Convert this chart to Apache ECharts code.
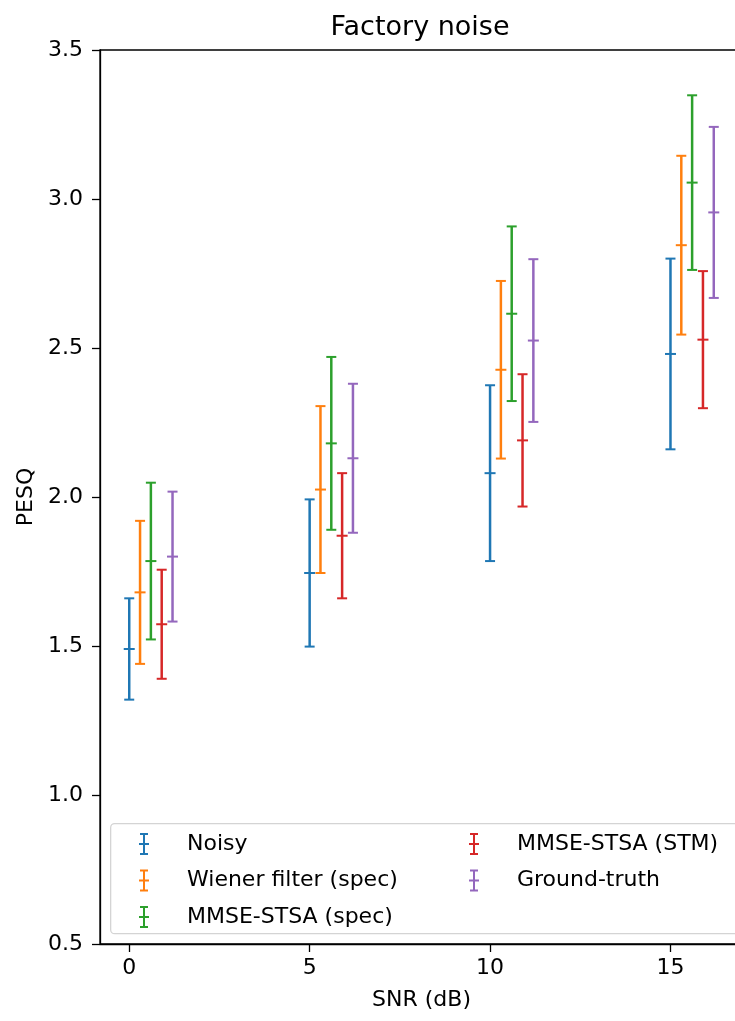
<!DOCTYPE html>
<html>
<head>
<meta charset="utf-8">
<title>Factory noise</title>
<script src="https://cdn.jsdelivr.net/npm/echarts@6/dist/echarts.min.js"></script>
<style>
  html, body { margin: 0; padding: 0; background: #fff; overflow: hidden; width: 735px; height: 1021px; }
  #chart { width: 760px; height: 1021px; }
</style>
</head>
<body>
<div id="chart"></div>
<script>
// SNR levels (dB) on the x axis
const snrLevels = [0, 5, 10, 15];
const xTicks = [0, 5, 10, 15];
const yTicks = [0.5, 1.0, 1.5, 2.0, 2.5, 3.0, 3.5];

const seriesNames = ['Noisy', 'Wiener filter (spec)', 'MMSE-STSA (spec)', 'MMSE-STSA (STM)', 'Ground-truth'];
const seriesColors = ['#1f77b4', '#ff7f0e', '#2ca02c', '#d62728', '#9467bd'];

// Mean PESQ and standard deviation per SNR level
const noisyMean = [1.49, 1.745, 2.08, 2.48];
const noisyStd  = [0.17, 0.247, 0.295, 0.32];
const wienerMean = [1.68, 2.025, 2.427, 2.845];
const wienerStd  = [0.24, 0.28, 0.298, 0.30];
const mmseSpecMean = [1.785, 2.18, 2.615, 3.055];
const mmseSpecStd  = [0.263, 0.29, 0.293, 0.293];
const mmseStmMean = [1.573, 1.87, 2.19, 2.528];
const mmseStmStd  = [0.183, 0.21, 0.222, 0.23];
const truthMean = [1.80, 2.13, 2.525, 2.955];
const truthStd  = [0.218, 0.25, 0.273, 0.287];

const means = [noisyMean, wienerMean, mmseSpecMean, mmseStmMean, truthMean];
const stds = [noisyStd, wienerStd, mmseSpecStd, mmseStmStd, truthStd];

// horizontal dodge between methods inside one SNR group
const dodge = 0.3;

const FONT = 'DejaVu Sans';
const CAP = 5;      // half width of the error bar caps (px)
const MID = 5.5;    // half width of the mean marker (px)
const LW = 2.5;

function renderErrorBar(params, api) {
  const x = api.value(0);
  const m = api.value(1);
  const e = api.value(2);
  const top = api.coord([x, m + e]);
  const bot = api.coord([x, m - e]);
  const mid = api.coord([x, m]);
  const style = { stroke: api.visual('color'), lineWidth: LW, fill: null };
  const thin = { stroke: api.visual('color'), lineWidth: 2, fill: null };
  return {
    type: 'group',
    children: [
      { type: 'line', shape: { x1: top[0], y1: top[1], x2: bot[0], y2: bot[1] }, style: style },
      { type: 'line', shape: { x1: top[0] - CAP, y1: top[1], x2: top[0] + CAP, y2: top[1] }, style: thin },
      { type: 'line', shape: { x1: bot[0] - CAP, y1: bot[1], x2: bot[0] + CAP, y2: bot[1] }, style: thin },
      { type: 'line', shape: { x1: mid[0] - MID, y1: mid[1], x2: mid[0] + MID, y2: mid[1] }, style: thin }
    ]
  };
}

// errorbar glyph used in the legend
const errIcon = 'path://M1,0H9V2H1Z M4,0H6V22H4Z M1,20H9V22H1Z M0,10H10V12H0Z';

const series = seriesNames.map(function (name, i) {
  return {
    name: name,
    type: 'custom',
    renderItem: renderErrorBar,
    itemStyle: { color: seriesColors[i] },
    encode: { x: 0, y: 1 },
    data: snrLevels.map(function (s, k) {
      return [s + i * dodge, means[i][k], stds[i][k]];
    }),
    z: 2
  };
});

const legendCommon = {
  orient: 'vertical',
  padding: 0,
  itemWidth: 10,
  itemHeight: 22,
  itemGap: 14.5,
  selectedMode: false,
  textStyle: { fontFamily: FONT, fontSize: 22, color: '#000', padding: [0, 0, 0, 33] },
  z: 5
};

const chart = echarts.init(document.getElementById('chart'), null, { renderer: 'canvas' });
chart.setOption({
  animation: false,
  backgroundColor: '#fff',
  title: {
    text: 'Factory noise',
    left: 415,
    top: 9,
    textAlign: 'center',
    textStyle: { fontFamily: FONT, fontSize: 27, fontWeight: 'normal', color: '#000' }
  },
  grid: {
    left: 100,
    top: 50,
    width: 643,
    height: 894,
    show: true,
    borderColor: '#000',
    borderWidth: 1.3,
    containLabel: false
  },
  xAxis: {
    type: 'value',
    min: -0.81,
    max: 17.01,
    name: 'SNR (dB)',
    nameLocation: 'middle',
    nameGap: 45,
    nameTextStyle: { fontFamily: FONT, fontSize: 22, color: '#000' },
    axisLine: { show: true, onZero: false, lineStyle: { color: '#000', width: 1.3 } },
    axisTick: { show: true, length: 8, customValues: xTicks, lineStyle: { color: '#000', width: 1.3 } },
    axisLabel: { customValues: xTicks, margin: 13, fontFamily: FONT, fontSize: 22, color: '#000' },
    splitLine: { show: false }
  },
  yAxis: {
    type: 'value',
    min: 0.5,
    max: 3.5,
    interval: 0.5,
    name: 'PESQ',
    nameLocation: 'middle',
    nameGap: 63,
    nameRotate: 90,
    nameTextStyle: { fontFamily: FONT, fontSize: 22, color: '#000' },
    axisLine: { show: true, onZero: false, lineStyle: { color: '#000', width: 1.3 } },
    axisTick: { show: true, length: 8, customValues: yTicks, lineStyle: { color: '#000', width: 1.3 } },
    axisLabel: {
      customValues: yTicks,
      margin: 17,
      fontFamily: FONT,
      fontSize: 22,
      color: '#000',
      formatter: function (v) { return v.toFixed(1); }
    },
    splitLine: { show: false }
  },
  legend: [
    Object.assign({}, legendCommon, {
      left: 139,
      top: 833,
      data: seriesNames.slice(0, 3).map(function (n) { return { name: n, icon: errIcon }; })
    }),
    Object.assign({}, legendCommon, {
      left: 469,
      top: 833,
      data: seriesNames.slice(3).map(function (n) { return { name: n, icon: errIcon }; })
    })
  ],
  graphic: [
    {
      type: 'rect',
      left: 110,
      top: 823,
      shape: { width: 640, height: 110, r: 4 },
      style: { fill: 'rgba(255,255,255,0.8)', stroke: '#d4d4d4', lineWidth: 1.3 },
      z: 4
    }
  ],
  series: series
});
</script>
</body>
</html>
